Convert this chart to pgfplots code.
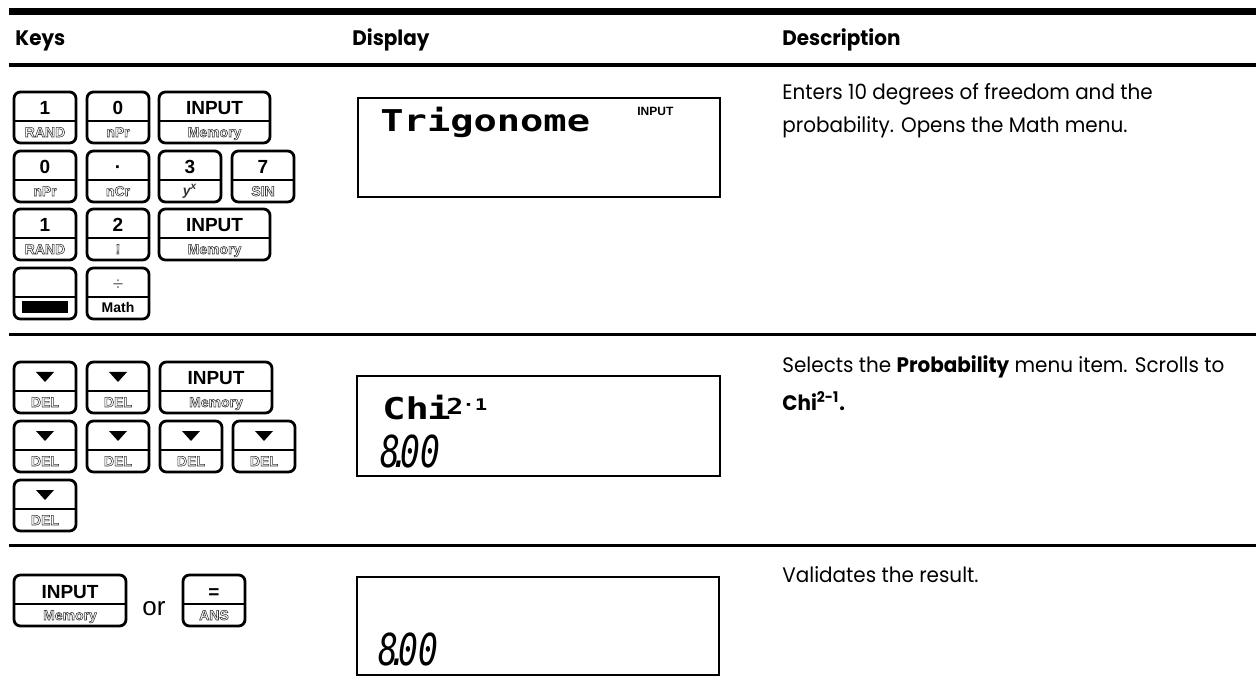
\documentclass[border=0pt]{standalone}
\usepackage{pgfplots}
\pgfplotsset{compat=1.18}
\usepackage{fontspec}
\setmainfont{Poppins}[FakeStretch=0.95]
\newfontfamily\keyfont{Liberation Sans}
\newfontfamily\lcdfont{DejaVu Sans Mono}[FakeStretch=1.29]
\newfontfamily\segfont{DejaVu Sans Mono}[FakeStretch=0.75]
\newcommand{\outl}[1]{\special{pdf:literal direct 1 Tr 0.28 w}#1\special{pdf:literal direct 0 Tr}}
\tikzset{
  toplab/.style={font=\keyfont\bfseries\fontsize{9.5}{10}\selectfont, inner sep=0pt, anchor=base},
  botlab/.style={font=\keyfont\bfseries\fontsize{7}{8}\selectfont, text=black!80, inner sep=0pt, anchor=base},
  hdr/.style={font=\bfseries\fontsize{10.5}{12}\selectfont, inner sep=0pt, anchor=base west},
  desc/.style={font=\fontsize{10.5}{12}\selectfont, inner sep=0pt, anchor=base west},
  lcd/.style={font=\lcdfont\bfseries\fontsize{15}{15}\selectfont, inner sep=0pt, anchor=base west},
  seg/.style={font=\segfont\itshape\fontsize{22}{22}\selectfont, inner sep=0pt, anchor=base west},
}
\newcommand{\keybox}[3]{%
  \draw[line width=1.4pt, rounded corners=3.2pt] (axis cs:#1,#2) rectangle ++(#3,-25.5pt);
  \draw[line width=0.9pt] (axis cs:#1,#2) ++(0.7pt,-14.5pt) -- ++(#3-1.4pt,0);
}
\newcommand{\key}[5]{%
  \keybox{#1}{#2}{#3}
  \path (axis cs:#1,#2) ++(#3/2,-11.5pt) node[toplab]{#4};
  \path (axis cs:#1,#2) ++(#3/2,-22.5pt) node[botlab]{#5};
}
\newcommand{\downkey}[2]{%
  \keybox{#1}{#2}{31pt}
  \fill (axis cs:#1,#2) ++(11pt,-5pt) -- ++(9pt,0) -- ++(-4.5pt,-5pt) -- cycle;
  \path (axis cs:#1,#2) ++(15.5pt,-22.5pt) node[botlab]{\outl{DEL}};
}
\newcommand{\shiftkey}[2]{%
  \keybox{#1}{#2}{31pt}
  \fill (axis cs:#1,#2) ++(4pt,-16.5pt) rectangle ++(23pt,-6pt);
}
\begin{document}
\begin{tikzpicture}
\begin{axis}[
  width=628pt, height=341.5pt, scale only axis,
  xmin=0, xmax=1256, ymin=0, ymax=683, y dir=reverse,
  hide axis, clip=false]
\addplot[draw=none, forget plot] coordinates {(0,0) (1256,683)};
\path (axis cs:0,0) rectangle (axis cs:1256,683);
% rules
\fill (axis cs:9,8) rectangle (axis cs:1256,15);
\fill (axis cs:9,63) rectangle (axis cs:1256,67);
\fill (axis cs:9,333) rectangle (axis cs:1256,336);
\fill (axis cs:9,544) rectangle (axis cs:1256,547);
% headers
\node[hdr] at (axis cs:15,46) {Keys};
\node[hdr] at (axis cs:352,46) {Display};
\node[hdr] at (axis cs:782,46) {Description};
% row 1 keys
\key{14}{92}{31pt}{1}{\outl{RAND}}
\key{87}{92}{31pt}{0}{\outl{nPr}}
\key{159}{92}{55.5pt}{INPUT}{\outl{Memory}}
\key{14}{151}{31pt}{0}{\outl{nPr}}
\key{87}{151}{31pt}{·}{\outl{nCr}}
\key{159}{151}{31pt}{3}{\itshape y\textsuperscript{x}}
\key{232}{151}{31pt}{7}{\outl{SIN}}
\key{14}{209}{31pt}{1}{\outl{RAND}}
\key{87}{209}{31pt}{2}{\outl{!}}
\key{159}{209}{55.5pt}{INPUT}{\outl{Memory}}
\shiftkey{14}{268}
\key{87}{268}{31pt}{\textcolor{black!55}{\mdseries ÷}}{\color{black}Math}
% row 1 display
\draw[line width=1.2pt] (axis cs:358,98) rectangle (axis cs:720,197);
\node[lcd] at (axis cs:380,132) {Trigonome};
\node[font=\keyfont\bfseries\fontsize{6}{6}\selectfont, inner sep=0pt, anchor=base west] at (axis cs:637,116) {INPUT};
% row 1 description
\node[desc] at (axis cs:782,100) {Enters 10 degrees of freedom and the};
\node[desc] at (axis cs:782,133) {probability. Opens the Math menu.};
% row 2 keys
\downkey{14}{362}
\downkey{87}{362}
\key{160}{362}{56pt}{INPUT}{\outl{Memory}}
\downkey{14}{421}
\downkey{87}{421}
\downkey{160}{421}
\downkey{233}{421}
\downkey{14}{480}
% row 2 display
\draw[line width=1.2pt] (axis cs:357,376) rectangle (axis cs:720,476);
\node[lcd] at (axis cs:382,420) {Ch};
\node[lcd] at (axis cs:427,420) {i};
\node[lcd, font=\lcdfont\bfseries\fontsize{11}{11}\selectfont] at (axis cs:446,415) {2};
\node[lcd, font=\lcdfont\bfseries\fontsize{8}{8}\selectfont] at (axis cs:462,411) {·1};
\node[seg] at (axis cs:380,467) {8\makebox[0pt][c]{.}00};
% row 2 description
\node[desc] at (axis cs:782,372) {Selects the \textbf{Probability} menu item. Scrolls to};
\node[desc] at (axis cs:782,410) {\textbf{Chi\textsuperscript{2-1}.}};
% row 3 keys
\key{14}{575}{56pt}{INPUT}{\outl{Memory}}
\node[font=\keyfont\fontsize{13}{13}\selectfont, inner sep=0pt, anchor=base west] at (axis cs:142,615) {or};
\key{183}{575}{31pt}{=}{\outl{ANS}}
% row 3 display
\draw[line width=1.2pt] (axis cs:357,577) rectangle (axis cs:719,675);
\node[seg] at (axis cs:378,665) {8\makebox[0pt][c]{.}00};
% row 3 description
\node[desc] at (axis cs:782,582) {Validates the result.};
\end{axis}
\end{tikzpicture}
\end{document}
